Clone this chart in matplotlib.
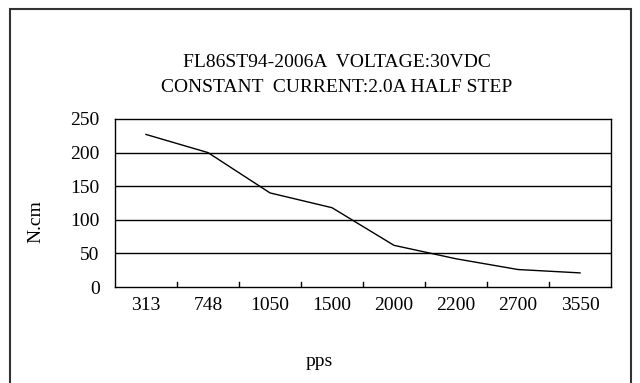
import matplotlib
matplotlib.use("Agg")
import matplotlib.pyplot as plt
from matplotlib.patches import Rectangle

# torque curve data
speeds = ["313", "748", "1050", "1500", "2000", "2200", "2700", "3550"]
torque = [227, 200, 140, 118, 62, 42, 26, 21]
y_ticks = [0, 50, 100, 150, 200, 250]

title1 = "FL86ST94-2006A  VOLTAGE:30VDC"
title2 = "CONSTANT  CURRENT:2.0A HALF STEP"

plt.rcParams['font.family'] = ['Liberation Serif', 'DejaVu Serif']
fs = 14

fig = plt.figure(figsize=(6.4, 3.83), dpi=100)
W, H = 640, 383

# outer frame
fig.patches.append(Rectangle((10 / W, -0.05), 621 / W, 1.05 - 9 / H,
                             transform=fig.transFigure, fill=False,
                             edgecolor="#333333", linewidth=1.5))

ax = fig.add_axes([115 / W, 1 - 287 / H, 496 / W, 168 / H])

x = list(range(len(speeds)))
ax.plot(x, torque, color="black", linewidth=1.0)

ax.set_xlim(-0.5, len(speeds) - 0.5)
ax.set_ylim(0, 250)
ax.set_yticks(y_ticks)
ax.tick_params(axis="y", length=0, labelsize=fs, pad=11)
for y in y_ticks[1:-1]:
    ax.axhline(y, color="black", linewidth=1.0)

# category labels under centres, tick marks at boundaries
ax.set_xticks(x)
ax.set_xticklabels(speeds)
ax.tick_params(axis="x", length=0, labelsize=fs, pad=7)
for b in range(1, len(speeds)):
    ax.plot([b - 0.5, b - 0.5], [0, 250 * 5 / 168], color="black", linewidth=1.0)

for s in ax.spines.values():
    s.set_linewidth(1.0)

fig.text(36 / W, 1 - 222 / H, "N.cm", rotation=90, ha="center", va="center", fontsize=fs)
fig.text(319 / W, 1 - 362 / H, "pps", ha="center", va="center", fontsize=fs)

fig.text(337 / W, 1 - 67 / H, title1, ha="center", va="baseline", fontsize=fs)
fig.text(337 / W, 1 - 92 / H, title2, ha="center", va="baseline", fontsize=fs)

fig.savefig("out.png", dpi=100)
